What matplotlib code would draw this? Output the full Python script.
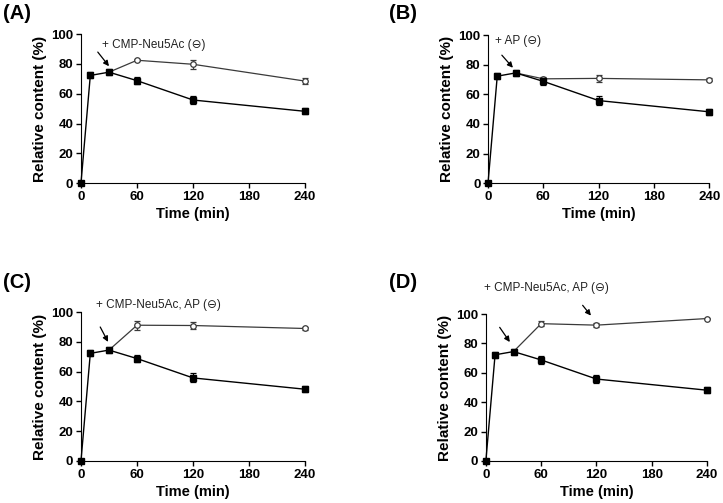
import matplotlib
matplotlib.use('Agg')
import matplotlib.pyplot as plt

plt.rcParams['font.family'] = ['Liberation Sans', 'DejaVu Sans']

# -----------------------------------------------------
# Data

time = [0, 10, 30, 60, 120, 240]
control = [0, 72.3, 74.5, 68.8, 55.8, 48.2]
control_err = [0, 2.0, 2.0, 2.5, 3.0, 2.0]

add_time = [30, 60, 120, 240]
cmp_vals = [74.5, 82.5, 79.8, 68.5]
cmp_err = [0, 0.8, 3.0, 2.0]
ap_vals = [74.5, 70.5, 70.8, 69.8]
ap_err = [0, 1.5, 2.5, 1.0]
cmp_ap_vals = [74.5, 91.2, 91.0, 89.0]
cmp_ap_err = [0, 3.0, 2.5, 1.0]
cmp_ap2_vals = [74.5, 93.5, 92.5, 97.0]
cmp_ap2_err = [0, 1.5, 1.5, 0.5]

panel_labels = ['(A)', '(B)', '(C)', '(D)']
notes = ['+ CMP-Neu5Ac (\u2296)', '+ AP (\u2296)',
         '+ CMP-Neu5Ac, AP (\u2296)', '+ CMP-Neu5Ac, AP (\u2296)']
x_ticks = [0, 60, 120, 180, 240]
y_ticks = [0, 20, 40, 60, 80, 100]


def draw_panel(ax, vals, errs, note, note_xy, arrows):
    """Draw one time course panel: control (filled squares) and treated (open circles)."""
    ax.errorbar(time, control, yerr=control_err, color='black', lw=1.0,
                marker='s', ms=5, mfc='black', mec='black',
                capsize=2, elinewidth=0.9, capthick=0.9, clip_on=False, zorder=3)
    ax.errorbar(add_time, vals, yerr=errs, color='#3a3a3a', lw=0.9,
                marker='o', ms=4, mfc='white', mec='#3a3a3a', mew=0.9,
                capsize=2, elinewidth=0.9, capthick=0.9, clip_on=False, zorder=2)

    ax.set_xlim(0, 240)
    ax.set_ylim(0, 100)
    ax.set_xticks(x_ticks)
    ax.set_yticks(y_ticks)
    for s in ['top', 'right']:
        ax.spines[s].set_visible(False)
    ax.tick_params(direction='out', length=3.5, width=1, labelsize=9.5, pad=2)
    for lab in ax.get_xticklabels() + ax.get_yticklabels():
        lab.set_fontweight('bold')
    ax.set_xlabel('Time (min)', fontsize=10.5, fontweight='bold', labelpad=3)
    ax.set_ylabel('Relative content (%)', fontsize=11, fontweight='bold', labelpad=3)

    ax.text(note_xy[0], note_xy[1], note, fontsize=8.5, color='#222222',
            va='center', ha='left', clip_on=False)
    for tail, head in arrows:
        ax.annotate('', xy=head, xytext=tail, annotation_clip=False,
                    arrowprops=dict(arrowstyle='-|>', color='black', lw=0.9,
                                    mutation_scale=8, shrinkA=0, shrinkB=0))


fig = plt.figure(figsize=(7.23, 5.03), dpi=100)

rects = [[0.112, 0.636, 0.310, 0.296],
         [0.675, 0.636, 0.306, 0.294],
         [0.112, 0.0835, 0.310, 0.296],
         [0.672, 0.0835, 0.306, 0.292]]
series = [(cmp_vals, cmp_err), (ap_vals, ap_err),
          (cmp_ap_vals, cmp_ap_err), (cmp_ap2_vals, cmp_ap2_err)]
note_pos = [(22, 92.6), (7.5, 96), (16, 104.7), (-2, 117.7)]
arrow_sets = [[((18, 88), (30, 78.5))],
              [((15, 86.5), (27, 78))],
              [((20.6, 90), (29, 80))],
              [((15, 91), (26, 81)), ((105, 106), (114, 99))]]
label_pos = [(0.004, 0.992), (0.538, 0.992), (0.004, 0.457), (0.538, 0.457)]

for i in range(4):
    ax = fig.add_axes(rects[i])
    draw_panel(ax, series[i][0], series[i][1], notes[i], note_pos[i], arrow_sets[i])
    fig.text(label_pos[i][0], label_pos[i][1], panel_labels[i], fontsize=14.5,
             fontweight='bold', va='top', ha='left')

fig.savefig('out.png', dpi=100)
